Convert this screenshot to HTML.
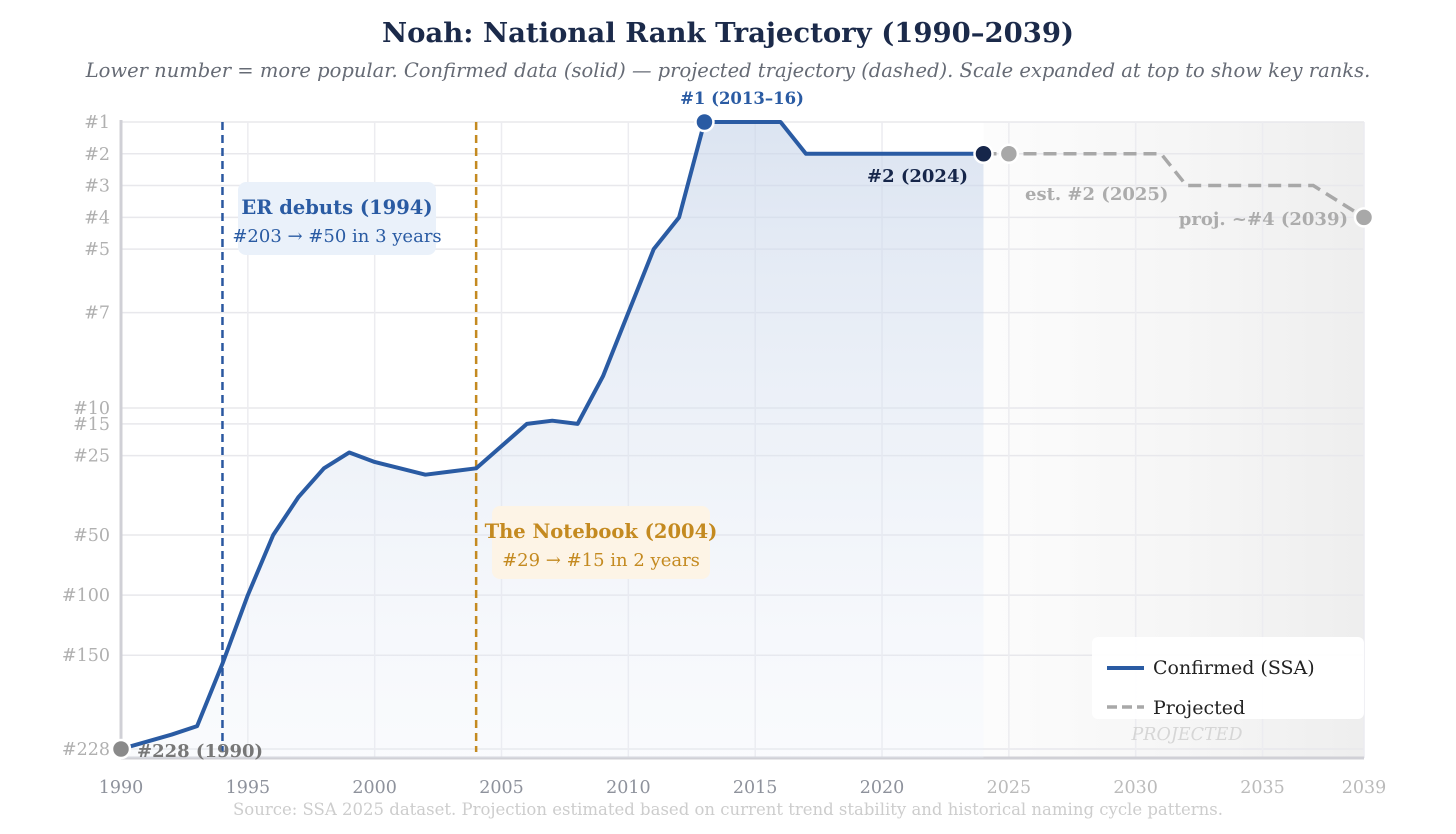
<!DOCTYPE html>
<html><head><meta charset="utf-8">
<style>
html,body{margin:0;padding:0;background:#fff;}
svg{display:block;font-family:"DejaVu Serif","Liberation Serif",serif;}
</style></head>
<body>
<svg id="chart" width="1456" height="834" viewBox="0 0 1456 834" xmlns="http://www.w3.org/2000/svg">
<defs>
<linearGradient id="blueFill" x1="0" y1="0" x2="0" y2="1">
<stop offset="0" stop-color="#c9d6ea" stop-opacity="0.65"/>
<stop offset="1" stop-color="#e9eef7" stop-opacity="0.25"/>
</linearGradient>
<linearGradient id="projFill" x1="0" y1="0" x2="1" y2="0">
<stop offset="0" stop-color="#fafafa" stop-opacity="0.6"/>
<stop offset="1" stop-color="#ececec" stop-opacity="0.9"/>
</linearGradient>
</defs>
<text x="728" y="42" text-anchor="middle" font-size="27.5" font-weight="bold" fill="#1b2a4a">Noah: National Rank Trajectory (1990–2039)</text>
<text x="728" y="77" text-anchor="middle" font-size="19.5" font-style="italic" fill="#666b75">Lower number = more popular. Confirmed data (solid) — projected trajectory (dashed). Scale expanded at top to show key ranks.</text>
<g id="grid"></g>
<g id="marks"></g>
<g id="labels"></g>
<text x="728" y="815" text-anchor="middle" font-size="16.5" fill="#cdcdcd">Source: SSA 2025 dataset. Projection estimated based on current trend stability and historical naming cycle patterns.</text>
</svg>
<script>
const years = [1990,1991,1992,1993,1994,1995,1996,1997,1998,1999,2000,2001,2002,2003,2004,2005,2006,2007,2008,2009,2010,2011,2012,2013,2014,2015,2016,2017,2018,2019,2020,2021,2022,2023,2024];
const ranks = [228,222,216,209,157,100,50,38,29,24,27,29,31,30,29,22,15,14,15,9,7,5,4,1,1,1,1,2,2,2,2,2,2,2,2];
const projYears = [2024,2025,2031,2032,2037,2039];
const projRanks = [2,2,2,3,3,4];
const yTicks = [1,2,3,4,5,7,10,15,25,50,100,150,228];
const xTicks = [1990,1995,2000,2005,2010,2015,2020,2025,2030,2035,2039];

const NS="http://www.w3.org/2000/svg";
const X0=121, X1=1364, YEAR0=1990, YEAR1=2039, BOTTOM=758;
function xs(yr){return X0+(yr-YEAR0)*(X1-X0)/(YEAR1-YEAR0);}
const bd=[1,10,50,228], br=[122,408,535,749];
function ys(r){
  for(let i=0;i<bd.length-1;i++){
    if(r<=bd[i+1]||i===bd.length-2){
      return br[i]+(r-bd[i])*(br[i+1]-br[i])/(bd[i+1]-bd[i]);
    }
  }
}
function mk(tag,attrs,parent,text){
  const e=document.createElementNS(NS,tag);
  for(const k in attrs)e.setAttribute(k,attrs[k]);
  if(text!==undefined)e.textContent=text;
  parent.appendChild(e);return e;
}
const grid=document.getElementById('grid'), marks=document.getElementById('marks'), labels=document.getElementById('labels');

let pr=mk('rect',{x:xs(2024),y:122,width:X1-xs(2024),height:BOTTOM-122,fill:'url(#projFill)'},grid);



yTicks.forEach(t=>{
  let l=mk('line',{x1:X0,x2:X1,y1:ys(t),y2:ys(t),stroke:'#e8e8ec','stroke-width':1.5},grid);
  
  
  let tx=mk('text',{x:110,y:ys(t)+6,'text-anchor':'end','font-size':17.5,fill:'#b0b0b0'},labels,'#'+t);
  
  
});
xTicks.forEach(t=>{
  let l=mk('line',{x1:xs(t),x2:xs(t),y1:122,y2:BOTTOM,stroke:'#ececf0','stroke-width':1.5},grid);
  
  
  let tx=mk('text',{x:xs(t),y:793,'text-anchor':'middle','font-size':17.5,fill:t>2024?'#bbbbbb':'#8e929c'},labels,String(t));
  
  
});
let ax=mk('line',{x1:X0,x2:X0,y1:120,y2:BOTTOM,stroke:'#d0d0d6','stroke-width':3},grid);


let bx=mk('line',{x1:X0,x2:X1,y1:BOTTOM,y2:BOTTOM,stroke:'#d0d0d6','stroke-width':3},grid);



let pts=years.map((y,i)=>xs(y)+','+ys(ranks[i]));
let area=mk('polygon',{points:xs(years[0])+','+BOTTOM+' '+pts.join(' ')+' '+xs(years[years.length-1])+','+BOTTOM,fill:'url(#blueFill)'},marks);



let e1=mk('line',{x1:xs(1994),x2:xs(1994),y1:122,y2:BOTTOM-6,stroke:'#2a57a0','stroke-width':2.5,'stroke-dasharray':'8,5'},marks);


let e2=mk('line',{x1:xs(2004),x2:xs(2004),y1:122,y2:BOTTOM-6,stroke:'#c48a20','stroke-width':2.5,'stroke-dasharray':'8,5'},marks);



let line=mk('polyline',{points:pts.join(' '),fill:'none',stroke:'#2a5ba3','stroke-width':4,'stroke-linejoin':'round'},marks);


let ppts=projYears.map((y,i)=>xs(y)+','+ys(projRanks[i]));
let pl=mk('polyline',{points:ppts.join(' '),fill:'none',stroke:'#a8a8a8','stroke-width':3.5,'stroke-dasharray':'13,7'},marks);



function dot(x,y,fill,name){
  let c=mk('circle',{cx:x,cy:y,r:9,fill:fill,stroke:'#fff','stroke-width':2.5},marks);
  
  
}
dot(xs(1990),ys(ranks[0]),'#8a8a8a','point-1990');
dot(xs(2013),ys(1),'#2a5ba3','point-peak');
dot(xs(2024),ys(ranks[ranks.length-1]),'#16264a','point-2024');
dot(xs(2025),ys(projRanks[1]),'#a8a8a8','point-2025');
dot(xs(2039),ys(projRanks[projRanks.length-1]),'#a8a8a8','point-2039');

function txt(x,y,s,opts,name){
  let t=mk('text',Object.assign({x:x,y:y},opts),labels,s);
  
  
  return t;
}
txt(742,104,'#1 (2013–16)',{'text-anchor':'middle','font-size':16.5,'font-weight':'bold',fill:'#2a5ba3'},'peak-label');
txt(968,182,'#2 (2024)',{'text-anchor':'end','font-size':18,'font-weight':'bold',fill:'#16264a'},'label-2024');
txt(1025,200,'est. #2 (2025)',{'font-size':18,'font-weight':'bold',fill:'#acacac'},'label-2025');
txt(1348,225,'proj. ~#4 (2039)',{'text-anchor':'end','font-size':18,'font-weight':'bold',fill:'#acacac'},'label-2039');
txt(137,757,'#228 (1990)',{'font-size':18,'font-weight':'bold',fill:'#777'},'label-1990');

let b1=mk('rect',{x:238,y:182,width:198,height:73,rx:8,fill:'#eaf1fa'},labels);


txt(337,214,'ER debuts (1994)',{'text-anchor':'middle','font-size':19.5,'font-weight':'bold',fill:'#2a5ba3'},'er-annotation-title');
txt(337,242,'#203 → #50 in 3 years',{'text-anchor':'middle','font-size':18,fill:'#2a5ba3'},'er-annotation-detail');
let b2=mk('rect',{x:492,y:506,width:218,height:73,rx:8,fill:'#fdf4e6'},labels);


txt(601,538,'The Notebook (2004)',{'text-anchor':'middle','font-size':19.5,'font-weight':'bold',fill:'#c48a20'},'notebook-annotation-title');
txt(601,566,'#29 → #15 in 2 years',{'text-anchor':'middle','font-size':18,fill:'#c48a20'},'notebook-annotation-detail');

txt(1187,740,'PROJECTED',{'text-anchor':'middle','font-size':17.5,'font-style':'italic',fill:'#d6d6d6'},'projected-watermark');

let lg=mk('rect',{x:1092,y:637,width:272,height:82,rx:6,fill:'#fff','fill-opacity':0.95},labels);


let l1=mk('line',{x1:1107,x2:1144,y1:668,y2:668,stroke:'#2a5ba3','stroke-width':4},labels);


txt(1153,674,'Confirmed (SSA)',{'font-size':19,fill:'#222'},'legend-confirmed-label');
let l2=mk('line',{x1:1107,x2:1144,y1:707,y2:707,stroke:'#a8a8a8','stroke-width':3.5,'stroke-dasharray':'10,5'},labels);


txt(1153,714,'Projected',{'font-size':19,fill:'#222'},'legend-projected-label');
</script>
</body></html>
